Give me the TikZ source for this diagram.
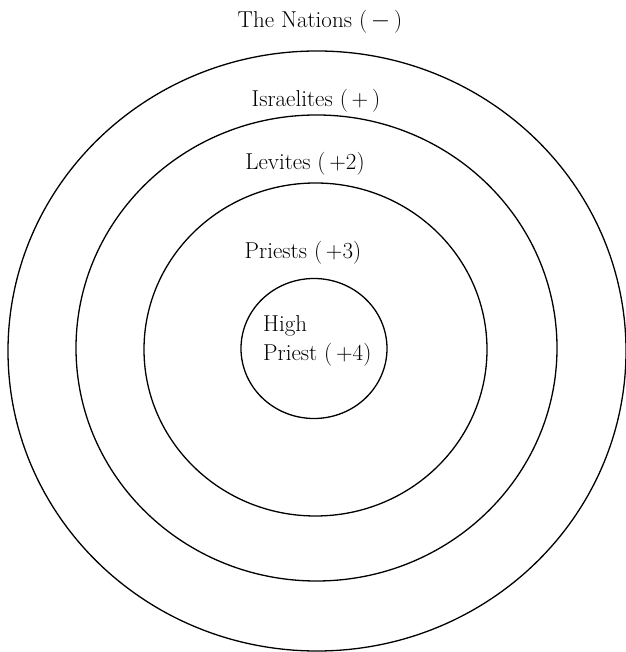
\documentclass[tikz,border=0pt]{standalone}
\usetikzlibrary{shapes.geometric}
\begin{document}
\begin{tikzpicture}[x=1pt,y=1pt,
  ring/.style={draw=black,line width=1.3pt,ellipse,inner sep=0pt,fill=none},
  lbl/.style={font=\fontsize{23}{27}\selectfont,inner sep=0pt,anchor=base}]
\useasboundingbox (0,0) rectangle (625,652);
\node[ring,minimum width=618pt,minimum height=600pt] (israelites) at (317,301) {};
\node[ring,minimum width=481pt,minimum height=466pt] (levites) at (316.5,304) {};
\node[ring,minimum width=343pt,minimum height=333pt] (priests) at (315.5,302.5) {};
\node[ring,minimum width=146pt,minimum height=140pt] (high) at (314,303.5) {};
\node[lbl] (tNations) at (320,624) {The Nations (\,$-$\,)};
\node[lbl] (tIsrael) at (316,545) {Israelites (\,+\,)};
\node[lbl] (tLevites) at (305,482) {Levites (\,+2)};
\node[lbl] (tPriests) at (303,393) {Priests (\,+3)};
\node[lbl,anchor=base west] (tHigh) at (263,320) {High};
\node[lbl,anchor=base west] (tHP) at (263,291) {Priest (\,+4)};
\end{tikzpicture}
\end{document}
